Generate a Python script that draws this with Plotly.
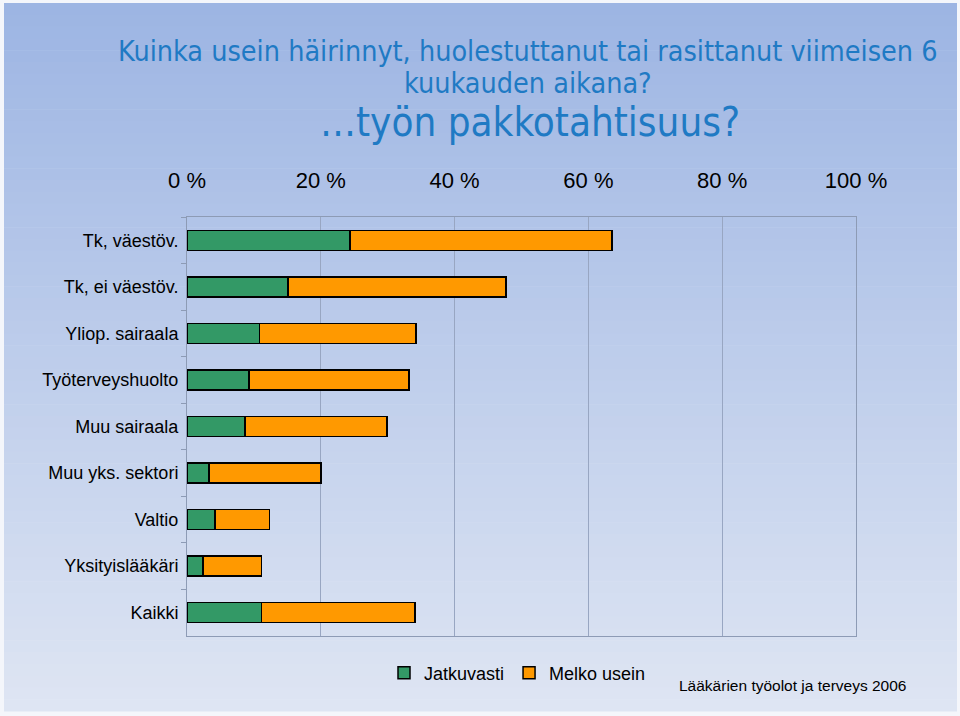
import plotly.graph_objects as go

categories = ['Tk, väestöv.', 'Tk, ei väestöv.', 'Yliop. sairaala', 'Työterveyshuolto',
              'Muu sairaala', 'Muu yks. sektori', 'Valtio', 'Yksityislääkäri', 'Kaikki']
jatkuvasti = [24.4, 15.1, 10.8, 9.3, 8.7, 3.3, 4.2, 2.4, 11.1]
melko_usein = [39.1, 32.6, 23.4, 23.9, 21.2, 16.7, 8.1, 8.7, 23.0]
tick_vals = [0, 20, 40, 60, 80, 100]
tick_text = ['0 %', '20 %', '40 %', '60 %', '80 %', '100 %']

label_font = 'Liberation Sans Narrow, Liberation Sans, Arial'
title_font = 'DejaVu Sans Condensed, DejaVu Sans, Verdana'
title_color = '#1f7ac4'

fig = go.Figure()
fig.add_trace(go.Bar(y=categories, x=jatkuvasti, name='Jatkuvasti', orientation='h',
                     marker=dict(color='#339966', line=dict(color='#000000', width=1.5))))
fig.add_trace(go.Bar(y=categories, x=melko_usein, name='Melko usein', orientation='h',
                     marker=dict(color='#ff9900', line=dict(color='#000000', width=1.5))))

# plot area in pixels: x 187..856, y 217..636
L, R, T, B = 187, 856, 217, 636
pw, ph = R - L, B - T

def px_x(p):
    return (p - L) / pw

def px_y(p):
    return (B - p) / ph

# vertical gradient slide background, thin white rim around it
top = (157, 181, 227)
bot = (222, 229, 243)
n = 60
y_top, y_bot = 3, 711
shapes = []
for i in range(n):
    t = i / (n - 1)
    c = tuple(round(top[k] + (bot[k] - top[k]) * t) for k in range(3))
    p0 = y_top + (y_bot - y_top) * i / n
    p1 = y_top + (y_bot - y_top) * (i + 1) / n
    shapes.append(dict(type='rect', xref='paper', yref='paper', layer='below',
                       x0=px_x(4), x1=px_x(957), y0=px_y(p1 + 0.5), y1=px_y(p0),
                       fillcolor='rgb(%d,%d,%d)' % c, line=dict(width=0)))

fig.update_layout(
    width=960, height=716,
    barmode='stack', bargap=0.57,
    margin=dict(l=L, r=960 - R, t=T, b=716 - B, autoexpand=False),
    paper_bgcolor='#f4f6fb', plot_bgcolor='rgba(0,0,0,0)',
    shapes=shapes,
    font=dict(family=label_font, color='#000000'),
    xaxis=dict(side='top', range=[0, 100], tickvals=tick_vals, ticktext=tick_text,
               tickfont=dict(size=22), showgrid=True, gridcolor='#98a6c2', gridwidth=1,
               showline=True, linecolor='#8d9bb5', mirror=True, ticks='', zeroline=False,
               ticklabelstandoff=19),
    yaxis=dict(categoryorder='array', categoryarray=categories, autorange='reversed',
               tickfont=dict(size=18), showline=True, linecolor='#8d9bb5', mirror=True,
               ticks='outside', tickson='boundaries', ticklen=5, tickcolor='#8d9bb5',
               ticklabelstandoff=4),
    legend=dict(orientation='h', traceorder='normal', x=px_x(384), xanchor='left',
                y=px_y(673), yanchor='middle',
                font=dict(size=18, family=label_font), bgcolor='rgba(0,0,0,0)',
                tracegroupgap=0),
    annotations=[
        dict(text='Kuinka usein häirinnyt, huolestuttanut tai rasittanut viimeisen 6',
             xref='paper', yref='paper', x=px_x(528), y=px_y(52), xanchor='center',
             yanchor='middle', showarrow=False,
             font=dict(size=28.5, color=title_color, family=title_font)),
        dict(text='kuukauden aikana?',
             xref='paper', yref='paper', x=px_x(528), y=px_y(83), xanchor='center',
             yanchor='middle', showarrow=False,
             font=dict(size=28.5, color=title_color, family=title_font)),
        dict(text='…työn pakkotahtisuus?', xref='paper', yref='paper', x=px_x(530),
             y=px_y(122), xanchor='center', yanchor='middle', showarrow=False,
             font=dict(size=40, color=title_color, family=title_font)),
        dict(text='Lääkärien työolot ja terveys 2006', xref='paper', yref='paper',
             x=px_x(677), y=px_y(685), xanchor='left', yanchor='middle', showarrow=False,
             font=dict(size=15.5, family=label_font, color='#000000')),
    ],
)

fig.write_html('out.html', config={'displayModeBar': False},
               post_script="document.body.style.margin='0';")
